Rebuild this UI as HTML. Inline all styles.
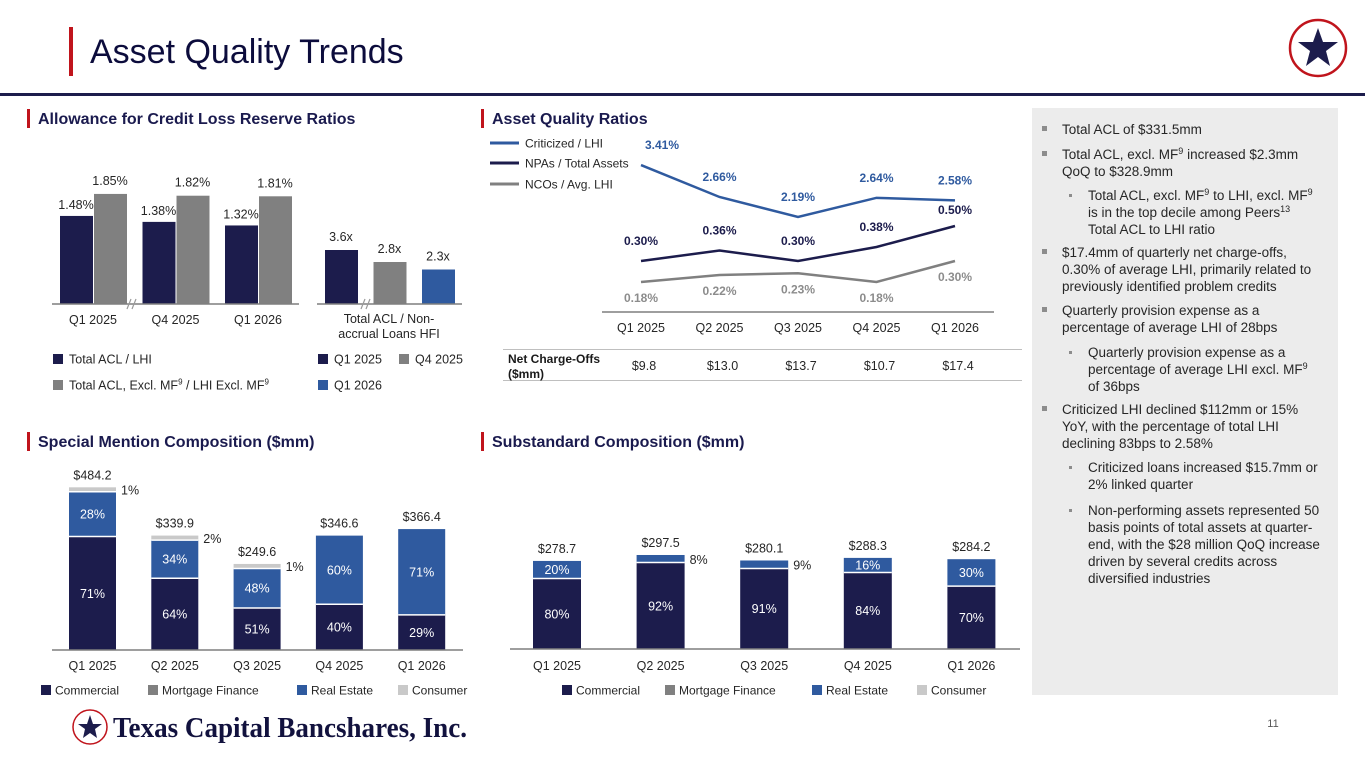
<!DOCTYPE html>
<html><head><meta charset="utf-8"><title>Asset Quality Trends</title>
<style>
html,body{margin:0;padding:0;background:#fff;width:1365px;height:768px;overflow:hidden}
svg{display:block;font-family:"Liberation Sans",Arial,sans-serif}
</style></head>
<body>
<svg id="slide" width="1365" height="768" viewBox="0 0 1365 768" xmlns="http://www.w3.org/2000/svg">
  <!-- header -->
  <rect x="69" y="27" width="4" height="49" fill="#c0141c"/>
  <text x="90" y="63" font-size="34" fill="#0c0c3c">Asset Quality Trends</text>
  <rect x="0" y="93" width="1365" height="3" fill="#1c1c4c"/>
  <g>
    <circle cx="1318" cy="48" r="28" fill="#fff" stroke="#c0141c" stroke-width="2.5"/>
    <polygon points="1318,28 1323,42 1338,42 1326,51 1330,66 1318,57 1306,66 1310,51 1298,42 1313,42" fill="#1c1c4c"/>
  </g>

  <!-- section titles -->
  <rect x="27" y="109" width="3" height="19" fill="#c0141c"/>
  <text x="38" y="124" font-size="16" font-weight="bold" fill="#1a1a4e">Allowance for Credit Loss Reserve Ratios</text>
  <rect x="481" y="109" width="3" height="19" fill="#c0141c"/>
  <text x="492" y="124" font-size="16" font-weight="bold" fill="#1a1a4e">Asset Quality Ratios</text>
  <rect x="27" y="432" width="3" height="19" fill="#c0141c"/>
  <text x="38" y="447" font-size="16" font-weight="bold" fill="#1a1a4e">Special Mention Composition ($mm)</text>
  <rect x="481" y="432" width="3" height="19" fill="#c0141c"/>
  <text x="492" y="447" font-size="16" font-weight="bold" fill="#1a1a4e">Substandard Composition ($mm)</text>

  <!-- right commentary panel -->
  <rect x="1032" y="108" width="306" height="587" fill="#ececec"/>
  <g id="notes" font-size="13.5" fill="#262626">
    <rect x="1042" y="126" width="5" height="5" fill="#8c8c8c"/>
    <text x="1062" y="134">Total ACL of $331.5mm</text>
    <rect x="1042" y="151" width="5" height="5" fill="#8c8c8c"/>
    <text x="1062" y="159">Total ACL, excl. MF<tspan font-size="9" dy="-5">9</tspan><tspan dy="5"> increased $2.3mm</tspan></text>
    <text x="1062" y="176">QoQ to $328.9mm</text>
    <rect x="1069" y="194" width="3" height="3" fill="#8c8c8c"/>
    <text x="1088" y="200">Total ACL, excl. MF<tspan font-size="9" dy="-5">9</tspan><tspan dy="5"> to LHI, excl. MF</tspan><tspan font-size="9" dy="-5">9</tspan></text>
    <text x="1088" y="217">is in the top decile among Peers<tspan font-size="9" dy="-5">13</tspan></text>
    <text x="1088" y="234">Total ACL to LHI ratio</text>
    <rect x="1042" y="249" width="5" height="5" fill="#8c8c8c"/>
    <text x="1062" y="257">$17.4mm of quarterly net charge-offs,</text>
    <text x="1062" y="274">0.30% of average LHI, primarily related to</text>
    <text x="1062" y="291">previously identified problem credits</text>
    <rect x="1042" y="307" width="5" height="5" fill="#8c8c8c"/>
    <text x="1062" y="315">Quarterly provision expense as a</text>
    <text x="1062" y="332">percentage of average LHI of 28bps</text>
    <rect x="1069" y="351" width="3" height="3" fill="#8c8c8c"/>
    <text x="1088" y="357">Quarterly provision expense as a</text>
    <text x="1088" y="374">percentage of average LHI excl. MF<tspan font-size="9" dy="-5">9</tspan></text>
    <text x="1088" y="391">of 36bps</text>
    <rect x="1042" y="406" width="5" height="5" fill="#8c8c8c"/>
    <text x="1062" y="414">Criticized LHI declined $112mm or 15%</text>
    <text x="1062" y="431">YoY, with the percentage of total LHI</text>
    <text x="1062" y="448">declining 83bps to 2.58%</text>
    <rect x="1069" y="466" width="3" height="3" fill="#8c8c8c"/>
    <text x="1088" y="472">Criticized loans increased $15.7mm or</text>
    <text x="1088" y="489">2% linked quarter</text>
    <rect x="1069" y="509" width="3" height="3" fill="#8c8c8c"/>
    <text x="1088" y="515">Non-performing assets represented 50</text>
    <text x="1088" y="532">basis points of total assets at quarter-</text>
    <text x="1088" y="549">end, with the $28 million QoQ increase</text>
    <text x="1088" y="566">driven by several credits across</text>
    <text x="1088" y="583">diversified industries</text>
  </g>

  <!-- footer -->
  <g>
    <circle cx="90" cy="727" r="17" fill="#fff" stroke="#c0141c" stroke-width="1.5"/>
    <polygon points="90,715 93,724 102,724 95,729 97,738 90,733 83,738 85,729 78,724 87,724" fill="#1c1c4c"/>
    <text x="113" y="737" font-family="'Liberation Serif',serif" font-size="29" font-weight="bold" fill="#12123e" textLength="354" lengthAdjust="spacingAndGlyphs">Texas Capital Bancshares, Inc.</text>
  </g>
  <text x="1273" y="727" font-size="11" fill="#595959" text-anchor="middle">11</text>

  <g id="charts"></g>
</svg>

<script>
// ---------- data ----------
const aclCats = ["Q1 2025", "Q4 2025", "Q1 2026"];
const aclTotalLhi = [1.48, 1.38, 1.32];
const aclExMf = [1.85, 1.82, 1.81];
const nonaccrualVals = [3.6, 2.8, 2.3];
const nonaccrualSeries = ["Q1 2025", "Q4 2025", "Q1 2026"];

const aqCats = ["Q1 2025", "Q2 2025", "Q3 2025", "Q4 2025", "Q1 2026"];
const criticizedLhi = [3.41, 2.66, 2.19, 2.64, 2.58];
const npasAssets = [0.30, 0.36, 0.30, 0.38, 0.50];
const ncosLhi = [0.18, 0.22, 0.23, 0.18, 0.30];
const netChargeOffs = ["$9.8", "$13.0", "$13.7", "$10.7", "$17.4"];

const smCats = ["Q1 2025", "Q2 2025", "Q3 2025", "Q4 2025", "Q1 2026"];
const smTotals = [484.2, 339.9, 249.6, 346.6, 366.4];
const smCommercial = [71, 64, 51, 40, 29];
const smMortgage = [0, 0, 0, 0, 0];
const smRealEstate = [28, 34, 48, 60, 71];
const smConsumer = [1, 2, 1, 0, 0];

const ssCats = ["Q1 2025", "Q2 2025", "Q3 2025", "Q4 2025", "Q1 2026"];
const ssTotals = [278.7, 297.5, 280.1, 288.3, 284.2];
const ssCommercial = [80, 92, 91, 84, 70];
const ssMortgage = [0, 0, 0, 0, 0];
const ssRealEstate = [20, 8, 9, 16, 30];
const ssConsumer = [0, 0, 0, 0, 0];

// ---------- helpers ----------
const NS = "http://www.w3.org/2000/svg";
const root = document.getElementById("charts");
const NAVY = "#1c1c4c", GREY = "#808080", BLUE = "#2f5a9f", LIGHT = "#c9c9c9";
function mk(tag, attrs, parent) {
  const e = document.createElementNS(NS, tag);
  for (const k in attrs) e.setAttribute(k, attrs[k]);
  (parent || root).appendChild(e);
  return e;
}
function txt(s, attrs, parent) {
  const e = mk("text", attrs, parent);
  e.textContent = s;
  return e;
}

// ---------- ACL chart ----------
(function () {
  const g = mk("g", {});
  
  
  const base = 304, pxPer = 59.5;
  const y = v => base - v * pxPer;
  const gx = i => 60 + i * 82.5;
  aclCats.forEach((c, i) => {
    const a = mk("rect", { x: gx(i), y: y(aclTotalLhi[i]), width: 33, height: base - y(aclTotalLhi[i]), fill: NAVY }, g);
    
    
    const b = mk("rect", { x: gx(i) + 34, y: y(aclExMf[i]), width: 33, height: base - y(aclExMf[i]), fill: GREY }, g);
    
    
    const l1 = txt(aclTotalLhi[i].toFixed(2) + "%", { x: gx(i) + 16, y: y(aclTotalLhi[i]) - 7, "font-size": 12.5, "text-anchor": "middle", fill: "#262626" }, g);
    
    
    const l2 = txt(aclExMf[i].toFixed(2) + "%", { x: gx(i) + 50, y: y(aclExMf[i]) - 9, "font-size": 12.5, "text-anchor": "middle", fill: "#262626" }, g);
    
    
    const cl = txt(c, { x: gx(i) + 33, y: 324, "font-size": 12.5, "text-anchor": "middle", fill: "#262626" }, g);
    
    
  });
  const ax = mk("line", { x1: 52, y1: base, x2: 299, y2: base, stroke: "#7f7f7f", "stroke-width": 1.5 }, g);
  
  
  // nonaccrual
  const y2 = v => base - v * 15;
  const cols = [NAVY, GREY, BLUE];
  nonaccrualVals.forEach((v, i) => {
    const r = mk("rect", { x: 325 + i * 48.5, y: y2(v), width: 33, height: base - y2(v), fill: cols[i] }, g);
    
    
    const l = txt(v.toFixed(1) + "x", { x: 341 + i * 48.5, y: y2(v) - 9, "font-size": 12.5, "text-anchor": "middle", fill: "#262626" }, g);
    
    
  });
  const ax2 = mk("line", { x1: 317, y1: base, x2: 462, y2: base, stroke: "#7f7f7f", "stroke-width": 1.5 }, g);
  
  
  [131, 365].forEach(bx => {
    const br = mk("path", { d: `M${bx - 4} ${base + 5} L${bx} ${base - 5} M${bx + 1} ${base + 5} L${bx + 5} ${base - 5}`, stroke: "#9a9a9a", "stroke-width": 1.2, fill: "none" }, g);
    
    
  });
  const n1 = txt("Total ACL / Non-", { x: 389, y: 323, "font-size": 12.5, "text-anchor": "middle", fill: "#262626" }, g);
  
  
  const n2 = txt("accrual Loans HFI", { x: 389, y: 338, "font-size": 12.5, "text-anchor": "middle", fill: "#262626" }, g);
  
  
  // legends
  const leg = [
    [53, 354, NAVY, "Total ACL / LHI"],
    [53, 380, GREY, "Total ACL, Excl. MF"],
    [318, 354, NAVY, "Q1 2025"],
    [399, 354, GREY, "Q4 2025"],
    [318, 380, BLUE, "Q1 2026"]
  ];
  leg.forEach(L => {
    const s = mk("rect", { x: L[0], y: L[1], width: 10, height: 10, fill: L[2] }, g);
    
    
    const t = txt(L[3], { x: L[0] + 16, y: L[1] + 9.5, "font-size": 12.5, fill: "#262626" }, g);
    
    
    if (L[3].indexOf("MF") >= 0) {
      const a = mk("tspan", { "font-size": 8, dy: -5 }, t); a.textContent = "9";
      const b = mk("tspan", { dy: 5 }, t); b.textContent = " / LHI Excl. MF";
      const c = mk("tspan", { "font-size": 8, dy: -5 }, t); c.textContent = "9";
    }
  });
})();

// ---------- Asset Quality Ratios ----------
(function () {
  const g = mk("g", {});
  
  
  const x = i => 641 + i * 78.5;
  const yCrit = v => 310.3 - v * 42.6;
  const yLow = v => 313.5 - v * 175;
  const series = [
    [criticizedLhi, yCrit, BLUE, BLUE, -16, "line-criticized-lhi"],
    [npasAssets, yLow, NAVY, NAVY, -16, "line-npas-total-assets"],
    [ncosLhi, yLow, GREY, "#8c8c8c", 20, "line-ncos-avg-lhi"]
  ];
  series.forEach(S => {
    const vals = S[0], fy = S[1];
    const p = mk("polyline", { points: vals.map((v, i) => x(i) + "," + fy(v)).join(" "), fill: "none", stroke: S[2], "stroke-width": 2.5 }, g);
    
    
    vals.forEach((v, i) => {
      let lx = x(i), ly = fy(v) + S[4];
      if (S[5] === "line-criticized-lhi" && i === 0) { lx += 21; }
      if (S[5] === "line-npas-total-assets" && i === vals.length - 1) { ly += 4; }
      const l = txt(v.toFixed(2) + "%", { x: lx, y: ly, "font-size": 12, "font-weight": "bold", "text-anchor": "middle", fill: S[3] }, g);
      
      
    });
  });
  const ax = mk("line", { x1: 602, y1: 312, x2: 994, y2: 312, stroke: "#7f7f7f", "stroke-width": 1.5 }, g);
  
  
  aqCats.forEach((c, i) => {
    const t = txt(c, { x: x(i), y: 332, "font-size": 12.5, "text-anchor": "middle", fill: "#262626" }, g);
    
    
    const v = txt(netChargeOffs[i], { x: x(i) + 3, y: 370, "font-size": 12.5, "text-anchor": "middle", fill: "#262626" }, g);
    
    
  });
  const t1 = mk("line", { x1: 503, y1: 349.5, x2: 1022, y2: 349.5, stroke: "#bfbfbf", "stroke-width": 1 }, g);
  
  
  const t2 = mk("line", { x1: 503, y1: 380.5, x2: 1022, y2: 380.5, stroke: "#bfbfbf", "stroke-width": 1 }, g);
  
  
  const h1 = txt("Net Charge-Offs", { x: 508, y: 363, "font-size": 12, "font-weight": "bold", fill: "#1a1a1a" }, g);
  
  
  const h2 = txt("($mm)", { x: 508, y: 378, "font-size": 12, "font-weight": "bold", fill: "#1a1a1a" }, g);
  
  
  const leg = [[143, BLUE, "Criticized / LHI"], [163, NAVY, "NPAs / Total Assets"], [184, GREY, "NCOs / Avg. LHI"]];
  leg.forEach(L => {
    const ln = mk("line", { x1: 490, y1: L[0], x2: 519, y2: L[0], stroke: L[1], "stroke-width": 3 }, g);
    
    
    const t = txt(L[2], { x: 525, y: L[0] + 4.5, "font-size": 12, fill: "#262626" }, g);
    
    
  });
})();

// ---------- stacked charts ----------
function stacked(name, cats, totals, segs, base, scale, cx, barW, axisX1, axisX2, legendPos) {
  const g = mk("g", {});
  
  
  const colors = [NAVY, GREY, BLUE, LIGHT];
  cats.forEach((c, i) => {
    const H = totals[i] * scale;
    let yb = base;
    const x0 = cx(i) - barW / 2;
    segs.forEach((arr, k) => {
      let h = H * arr[i] / 100;
      if (h <= 0) return;
      if (h < 4.5) h = 4.5;
      const r = mk("rect", { x: x0, y: yb - h, width: barW, height: h, fill: colors[k] }, g);
      
      
      if (yb < base) {
        const sep = mk("line", { x1: x0, y1: yb, x2: x0 + barW, y2: yb, stroke: "#fff", "stroke-width": 1.5 }, g);
        
        
      }
      if (h > 14) {
        const l = txt(arr[i] + "%", { x: cx(i), y: yb - h / 2 + 4.5, "font-size": 12.5, "text-anchor": "middle", fill: "#fff" }, g);
        
        
      } else {
        const l = txt(arr[i] + "%", { x: x0 + barW + 5, y: yb - h / 2 + 5, "font-size": 12.5, fill: "#262626" }, g);
        
        
      }
      yb -= h;
    });
    const tl = txt("$" + totals[i].toFixed(1), { x: cx(i), y: yb - 8, "font-size": 12.5, "text-anchor": "middle", fill: "#262626" }, g);
    
    
    const cl = txt(c, { x: cx(i), y: 670, "font-size": 12.5, "text-anchor": "middle", fill: "#262626" }, g);
    
    
  });
  const ax = mk("line", { x1: axisX1, y1: base, x2: axisX2, y2: base, stroke: "#7f7f7f", "stroke-width": 1.5 }, g);
  
  
  const names = ["Commercial", "Mortgage Finance", "Real Estate", "Consumer"];
  names.forEach((n, k) => {
    const s = mk("rect", { x: legendPos[k], y: 685, width: 10, height: 10, fill: colors[k] }, g);
    
    
    const t = txt(n, { x: legendPos[k] + 14, y: 694.5, "font-size": 12, fill: "#262626" }, g);
    
    
  });
}
stacked("special-mention-chart", smCats, smTotals, [smCommercial, smMortgage, smRealEstate, smConsumer],
  650, 0.33, i => 92.5 + i * 82.3, 47, 52, 463, [41, 148, 297, 398]);
stacked("substandard-chart", ssCats, ssTotals, [ssCommercial, ssMortgage, ssRealEstate, ssConsumer],
  649, 0.316, i => 557 + i * 103.6, 48, 510, 1020, [562, 665, 812, 917]);
</script>
</body></html>
